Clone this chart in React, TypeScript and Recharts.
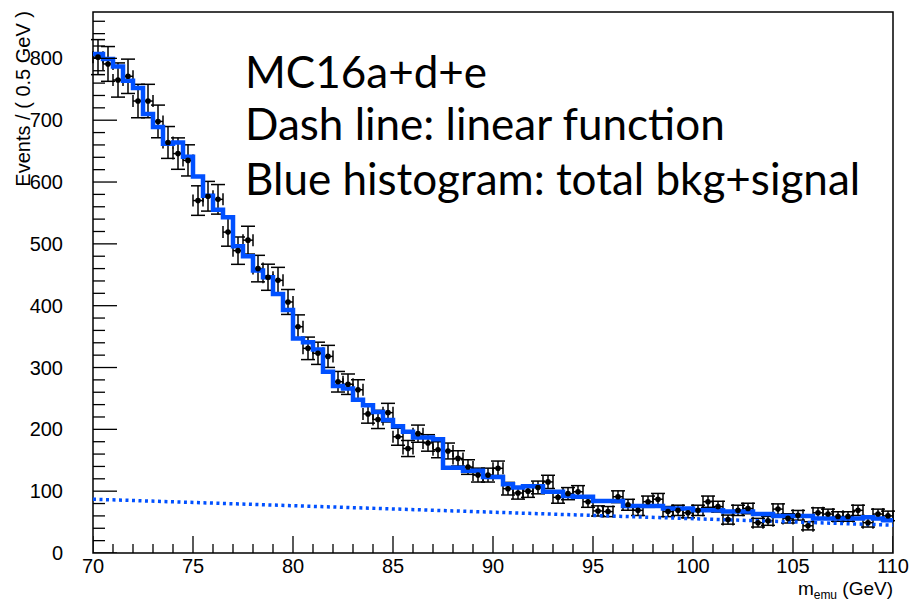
import React from "react";
import { ComposedChart, Line, Scatter, XAxis, YAxis, ErrorBar, ReferenceArea } from "recharts";

// events per 0.5 GeV bin, 70 -> 110 GeV (80 bins)
const dataCounts = [
  802, 791, 765, 771, 731, 731, 698, 664, 646, 635,
  570, 577, 572, 519, 489, 506, 460, 446, 441, 406,
  366, 331, 323, 318, 277, 273, 264, 225, 216, 227,
  188, 169, 193, 178, 167, 165, 153, 139, 126, 126,
  137, 104, 97, 100, 106, 115, 90, 96, 99, 83,
  68, 67, 91, 78, 69, 83, 87, 67, 69, 65,
  69, 83, 75, 54, 69, 72, 49, 52, 71, 56,
  61, 44, 65, 63, 59, 59, 69, 49, 63, 60,
];

// blue histogram: total bkg + signal
const totalHist = [
  807, 799, 787, 764, 752, 710, 689, 662, 664, 641,
  609, 578, 555, 543, 496, 480, 457, 446, 419, 393,
  347, 341, 329, 293, 270, 266, 248, 239, 228, 215,
  205, 196, 187, 187, 184, 138, 138, 133, 133, 123,
  123, 111, 106, 108, 108, 99, 99, 92, 91, 91,
  84, 84, 84, 76, 76, 76, 76, 72, 72, 72,
  69, 69, 69, 67, 67, 67, 63, 63, 60, 60,
  60, 60, 56, 56, 56, 56, 56, 58, 56, 53,
];

// dashed linear function end points
const linearX = [70, 110];
const linearY = [87, 45];

const xTicks = [70, 75, 80, 85, 90, 95, 100, 105, 110];
const yTicks = [0, 100, 200, 300, 400, 500, 600, 700, 800];
const xMinor = Array.from({ length: 41 }, (_, i) => 70 + i);
const yMinor = Array.from({ length: 44 }, (_, i) => i * 20);

const X_MIN = 70;
const BIN = 0.5;
const BLUE = "#0050ff";

const points = dataCounts.map((n, i) => ({
  x: X_MIN + BIN * i + BIN / 2,
  y: n,
  ey: Math.sqrt(n),
  ex: BIN / 2,
}));
const histData = [
  ...totalHist.map((v, i) => ({ x: X_MIN + BIN * i, h: v })),
  { x: X_MIN + BIN * totalHist.length, h: totalHist[totalHist.length - 1] },
];
const lineData = linearX.map((x, i) => ({ x, f: linearY[i] }));

// anchors for the inward ROOT-style tick marks
const yTickMarks = yMinor.map((v) => ({ x: 70, tk: v, major: v % 100 === 0 }));
const xTickMarks = xMinor.map((v) => ({ x: v, tk: 0, major: v % 5 === 0 }));

const FONT = "Liberation Sans, Arial, sans-serif";
const tickFont = { fill: "#000", fontSize: 20, fontFamily: FONT };

const yTickShape = (p: any) => (
  <line x1={p.cx} x2={p.cx + (p.payload.major ? 24 : 12)} y1={p.cy} y2={p.cy} stroke="#000" strokeWidth={1.3} />
);
const xTickShape = (p: any) => (
  <line x1={p.cx} x2={p.cx} y1={p.cy} y2={p.cy - (p.payload.major ? 17 : 9)} stroke="#000" strokeWidth={1.3} />
);

export default function App() {
  return (
    <div style={{ position: "absolute", left: 0, top: 0, width: 912, height: 603, background: "#fff" }}>
      <ComposedChart width={912} height={603} margin={{ top: 12, right: 19, bottom: 0, left: 0 }}>
        <XAxis dataKey="x" type="number" domain={[70, 110]} ticks={xTicks} interval={0}
          allowDataOverflow tickLine={false} axisLine={false} tickSize={0} tickMargin={6}
          height={50} tick={tickFont} />
        <YAxis type="number" domain={[0, 875]} ticks={yTicks} interval={0}
          allowDataOverflow tickLine={false} axisLine={false} tickSize={0} tickMargin={30}
          width={93} tick={tickFont} />

        <Scatter data={yTickMarks} dataKey="tk" isAnimationActive={false} shape={yTickShape} />
        <Scatter data={xTickMarks} dataKey="tk" isAnimationActive={false} shape={xTickShape} />

        <Scatter data={points} dataKey="y" isAnimationActive={false}
          shape={(p: any) => <circle cx={p.cx} cy={p.cy} r={2.8} fill="#000" />}>
          <ErrorBar dataKey="ey" direction="y" width={7} stroke="#000" strokeWidth={1.5} />
          <ErrorBar dataKey="ex" direction="x" width={6} stroke="#000" strokeWidth={1.5} />
        </Scatter>
        <Line data={lineData} dataKey="f" type="linear" stroke={BLUE} strokeWidth={3.5}
          strokeDasharray="3 3.5" dot={false} isAnimationActive={false} />
        <Line data={histData} dataKey="h" type="stepAfter" stroke={BLUE} strokeWidth={4.5}
          dot={false} isAnimationActive={false} />

        <ReferenceArea x1={70} x2={110} y1={0} y2={875} fill="none" fillOpacity={0}
          stroke="#000" strokeWidth={1.5} />
      </ComposedChart>

      <svg width={912} height={603} style={{ position: "absolute", left: 0, top: 0, pointerEvents: "none" }}>
        <text transform="translate(30,11) rotate(-90)" textAnchor="end" fontSize={20}
          fontFamily={FONT} fill="#000">Events / ( 0.5 GeV )</text>
        <text x={893} y={595} textAnchor="end" fontSize={19} fontFamily={FONT} fill="#000">
          m<tspan fontSize={12} dy={4}>emu</tspan><tspan dy={-4}> (GeV)</tspan>
        </text>
        <g fontFamily="Lato, sans-serif" fontSize={44} fill="#000">
          <text x={245} y={88}>MC16a+d+e</text>
          <text x={245} y={140}>Dash line: linear function</text>
          <text x={245} y={195}>Blue histogram: total bkg+signal</text>
        </g>
      </svg>
    </div>
  );
}
